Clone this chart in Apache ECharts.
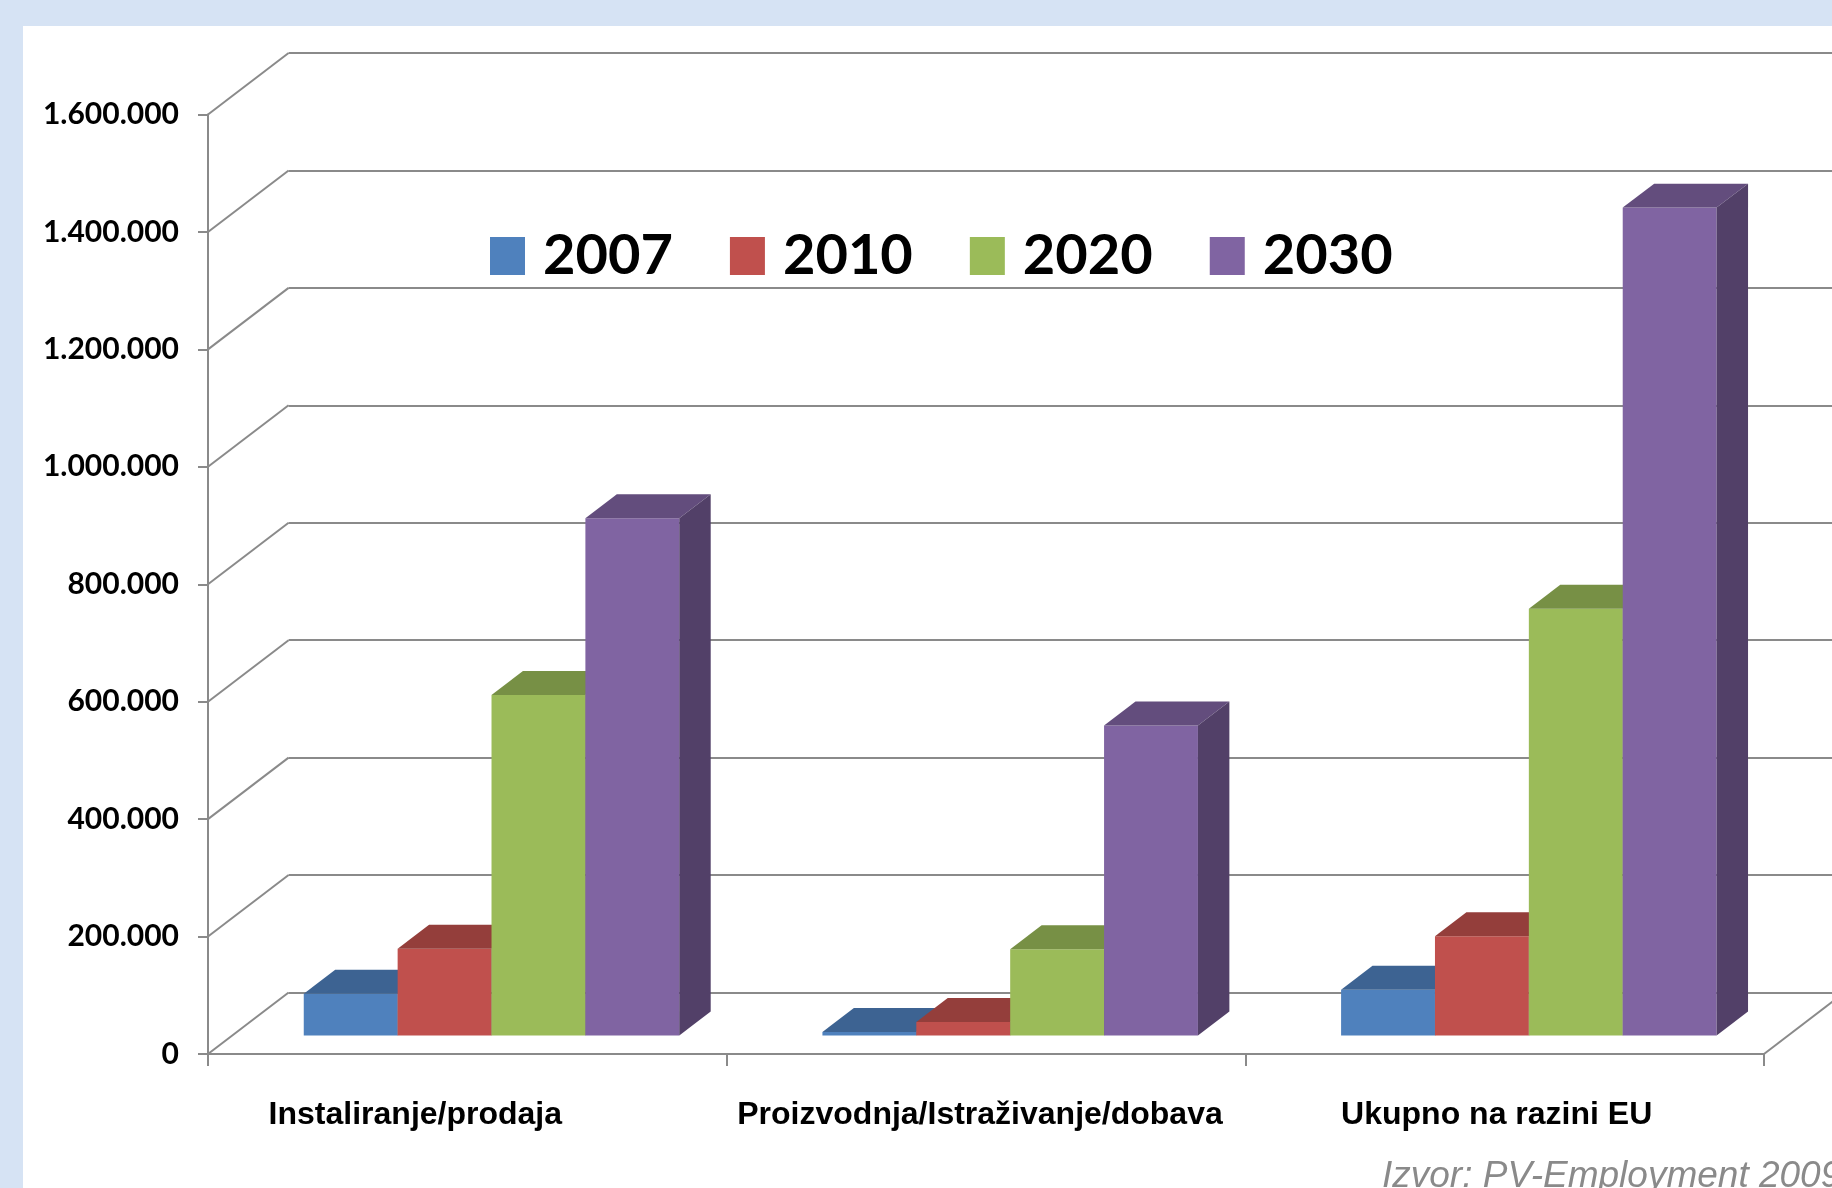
<!DOCTYPE html>
<html>
<head>
<meta charset="utf-8">
<script src="https://cdn.jsdelivr.net/npm/echarts@6/dist/echarts.min.js"></script>
<style>
  html, body { margin: 0; padding: 0; background: #d6e3f4; overflow: hidden; }
  #chart { position: absolute; left: 23px; top: 26px; width: 1809px; height: 1162px; background: #fff; }
</style>
</head>
<body>
<div id="chart"></div>
<script>
// data
const categories = ['Instaliranje/prodaja', 'Proizvodnja/Istraživanje/dobava', 'Ukupno na razini EU'];
const years = ['2007', '2010', '2020', '2030'];
const v2007 = [71000, 6000, 78000];
const v2010 = [148000, 23000, 169000];
const v2020 = [580000, 147000, 727000];
const v2030 = [881000, 528000, 1410000];
const yTicks = [0, 200000, 400000, 600000, 800000, 1000000, 1200000, 1400000, 1600000];
const source = 'Izvor: PV-Employment 2009';

const values = [v2007, v2010, v2020, v2030];
const colors = ['#4F81BD', '#C0504D', '#9BBB59', '#8064A2'];

// fake 3d: oblique offset of the back wall and where the bars sit in depth
const DEPTH_X = 80.6, DEPTH_Y = -61.5;
const BAR_POS = 0.30, BAR_DEPTH = 0.39;
const GROUP_RATIO = 0.724;
const GRID_COLOR = '#8a8a8a';

function shade(hex, f) {
  const n = parseInt(hex.slice(1), 16);
  const r = Math.round(((n >> 16) & 255) * f);
  const g = Math.round(((n >> 8) & 255) * f);
  const b = Math.round((n & 255) * f);
  return 'rgb(' + r + ',' + g + ',' + b + ')';
}

function fmt(v) {
  return String(v).replace(/\B(?=(\d{3})+(?!\d))/g, '.');
}

function barRenderer(k) {
  return function (params, api) {
    const cat = api.value(0), val = api.value(1);
    const p0 = api.coord([cat, 0]);
    const p1 = api.coord([cat, val]);
    const cw = api.size([1, 0])[0];
    const gw = cw * GROUP_RATIO, bw = gw / years.length;
    const x0 = p0[0] - gw / 2 + k * bw + DEPTH_X * BAR_POS;
    const x1 = x0 + bw;
    const yb = p0[1] + DEPTH_Y * BAR_POS;
    const yt = p1[1] + DEPTH_Y * BAR_POS;
    const dx = DEPTH_X * BAR_DEPTH, dy = DEPTH_Y * BAR_DEPTH;
    const c = colors[k];
    return {
      type: 'group',
      children: [
        { type: 'rect', shape: { x: x0, y: yt, width: bw, height: yb - yt }, style: { fill: c } },
        { type: 'polygon', shape: { points: [[x0, yt], [x1, yt], [x1 + dx, yt + dy], [x0 + dx, yt + dy]] }, style: { fill: shade(c, 0.77) } },
        { type: 'polygon', shape: { points: [[x1, yt], [x1 + dx, yt + dy], [x1 + dx, yb + dy], [x1, yb]] }, style: { fill: shade(c, 0.64) } }
      ]
    };
  };
}

// diagonal lines joining the front axis to the back wall
function wallRenderer(params, api) {
  const cs = params.coordSys;
  const v = api.value(1);
  const y = api.coord([0, v])[1];
  const st = { stroke: GRID_COLOR, lineWidth: 2 };
  const kids = [{ type: 'line', shape: { x1: cs.x, y1: y, x2: cs.x + DEPTH_X, y2: y + DEPTH_Y }, style: st }];
  if (v === 0) {
    kids.push({ type: 'line', shape: { x1: cs.x + cs.width, y1: y, x2: cs.x + cs.width + DEPTH_X, y2: y + DEPTH_Y }, style: st });
  }
  return { type: 'group', children: kids };
}

const chart = echarts.init(document.getElementById('chart'));

const front = { left: 185, right: 68, top: 88.5, bottom: 134 };

const series = years.map(function (y, k) {
  return {
    name: y,
    type: 'custom',
    xAxisIndex: 0,
    yAxisIndex: 0,
    itemStyle: { color: colors[k] },
    renderItem: barRenderer(k),
    encode: { x: 0, y: 1 },
    data: categories.map(function (c, i) { return [i, values[k][i]]; }),
    z: 3
  };
});
series.push({
  type: 'custom',
  xAxisIndex: 0,
  yAxisIndex: 0,
  silent: true,
  renderItem: wallRenderer,
  encode: { x: 0, y: 1 },
  data: yTicks.map(function (v) { return [0, v]; }),
  z: 1
});

chart.setOption({
  animation: false,
  grid: [
    { left: front.left, right: front.right, top: front.top, bottom: front.bottom },
    { left: front.left + DEPTH_X, right: front.right - DEPTH_X, top: front.top + DEPTH_Y, bottom: front.bottom - DEPTH_Y }
  ],
  legend: {
    data: years,
    left: 462,
    top: 197,
    icon: 'rect',
    itemWidth: 35,
    itemHeight: 38,
    itemGap: 57,
    textStyle: { fontFamily: 'Lato', fontWeight: 'bold', fontSize: 56, color: '#000', lineHeight: 44, padding: [0, 0, 0, 13] }
  },
  xAxis: [
    {
      type: 'category',
      gridIndex: 0,
      data: [
        { value: categories[0], textStyle: { padding: [0, 104, 0, 0] } },
        { value: categories[1], textStyle: { padding: [0, 12, 0, 0] } },
        { value: categories[2], textStyle: { padding: [0, 16, 0, 0] } }
      ],
      axisLine: { lineStyle: { color: GRID_COLOR, width: 2 } },
      axisTick: { show: true, interval: 0, length: 12, lineStyle: { color: GRID_COLOR, width: 2 } },
      axisLabel: { interval: 0, hideOverlap: false, margin: 45, fontFamily: 'Liberation Sans, Arial', fontWeight: 'bold', fontSize: 32, color: '#000' },
      splitLine: { show: false }
    },
    {
      type: 'category',
      gridIndex: 1,
      data: categories,
      show: false
    }
  ],
  yAxis: [
    {
      type: 'value',
      gridIndex: 0,
      min: 0,
      max: 1600000,
      interval: 200000,
      axisLine: { show: true, lineStyle: { color: GRID_COLOR, width: 2 } },
      axisTick: { show: true, length: 10, lineStyle: { color: GRID_COLOR, width: 2 } },
      axisLabel: { margin: 29, formatter: fmt, fontFamily: 'Lato', fontWeight: 'bold', fontSize: 30, color: '#000' },
      splitLine: { show: false }
    },
    {
      type: 'value',
      gridIndex: 1,
      min: 0,
      max: 1600000,
      interval: 200000,
      axisLine: { show: false },
      axisTick: { show: false },
      axisLabel: { show: false },
      splitLine: { show: true, lineStyle: { color: GRID_COLOR, width: 2 } }
    }
  ],
  graphic: [
    {
      type: 'text',
      left: 1359,
      top: 1132,
      style: { text: source, font: 'italic 37px "Liberation Sans", Arial', fill: '#8a8a8a' }
    }
  ],
  series: series
});
</script>
</body>
</html>
